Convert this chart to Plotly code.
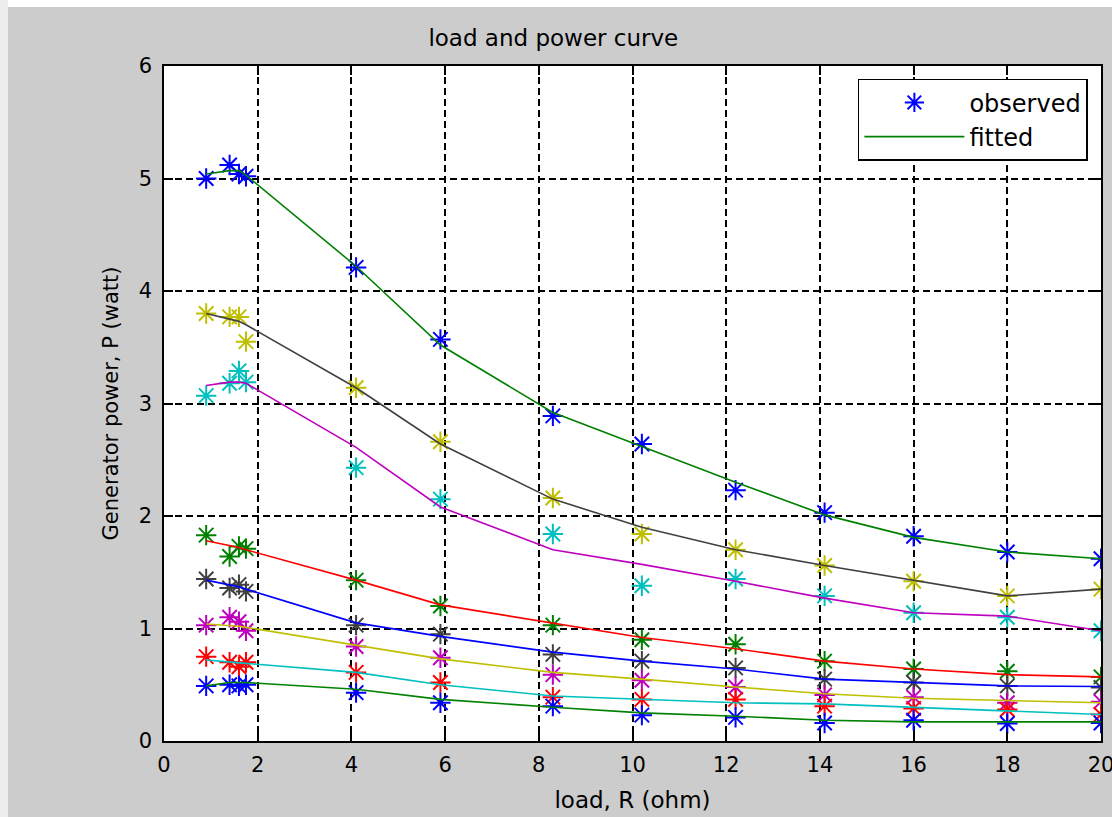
import plotly.graph_objects as go

# Load resistance values (ohm) shared by every measurement set
load_r = [0.9, 1.4, 1.6, 1.75, 4.1, 5.9, 8.3, 10.2, 12.2, 14.1, 16.0, 18.0, 20.0]

# Observed generator power (watt), one list per run
obs_1 = [5.00, 5.12, 5.04, 5.02, 4.21, 3.57, 2.89, 2.64, 2.23, 2.03, 1.82, 1.68, 1.62]
obs_2 = [3.80, 3.77, 3.77, 3.55, 3.14, 2.66, 2.16, 1.84, 1.70, 1.56, 1.42, 1.29, 1.35]
obs_3 = [3.07, 3.18, 3.29, 3.19, 2.43, 2.15, 1.84, 1.38, 1.44, 1.29, 1.14, 1.10, 0.98]
obs_4 = [1.83, 1.64, 1.73, 1.71, 1.43, 1.20, 1.03, 0.90, 0.86, 0.71, 0.64, 0.62, 0.57]
obs_5 = [1.44, 1.36, 1.39, 1.33, 1.03, 0.95, 0.77, 0.71, 0.65, 0.55, 0.52, 0.49, 0.475]
obs_6 = [1.03, 1.10, 1.06, 0.98, 0.84, 0.74, 0.59, 0.54, 0.48, 0.41, 0.39, 0.34, 0.35]
obs_7 = [0.75, 0.70, 0.66, 0.70, 0.61, 0.52, 0.39, 0.37, 0.37, 0.31, 0.29, 0.28, 0.235]
obs_8 = [0.49, 0.50, 0.49, 0.50, 0.43, 0.34, 0.31, 0.23, 0.21, 0.16, 0.185, 0.155, 0.16]

# Fitted generator power (watt), one list per run
fit_1 = [5.04, 5.07, 5.07, 5.03, 4.22, 3.52, 2.92, 2.62, 2.30, 2.01, 1.81, 1.68, 1.62]
fit_2 = [3.80, 3.75, 3.73, 3.70, 3.14, 2.64, 2.15, 1.90, 1.70, 1.56, 1.43, 1.29, 1.35]
fit_3 = [3.16, 3.19, 3.19, 3.18, 2.61, 2.08, 1.70, 1.57, 1.42, 1.27, 1.14, 1.11, 0.98]
fit_4 = [1.78, 1.74, 1.72, 1.70, 1.43, 1.21, 1.05, 0.92, 0.82, 0.71, 0.64, 0.59, 0.57]
fit_5 = [1.43, 1.39, 1.37, 1.35, 1.05, 0.93, 0.79, 0.71, 0.64, 0.55, 0.52, 0.49, 0.485]
fit_6 = [1.04, 1.03, 1.02, 1.01, 0.85, 0.73, 0.61, 0.55, 0.48, 0.42, 0.38, 0.36, 0.34]
fit_7 = [0.72, 0.70, 0.69, 0.69, 0.61, 0.50, 0.40, 0.37, 0.34, 0.33, 0.30, 0.265, 0.235]
fit_8 = [0.49, 0.52, 0.52, 0.52, 0.46, 0.37, 0.30, 0.25, 0.22, 0.185, 0.17, 0.17, 0.17]

x_ticks = [0, 2, 4, 6, 8, 10, 12, 14, 16, 18, 20]
y_ticks = [0, 1, 2, 3, 4, 5, 6]

BLUE, GREEN, RED = "#0000ff", "#008000", "#ff0000"
CYAN, MAGENTA, YELLOW, DARK = "#00bfbf", "#bf00bf", "#bfbf00", "#404040"

observed = [obs_1, obs_2, obs_3, obs_4, obs_5, obs_6, obs_7, obs_8]
observed_colors = [BLUE, YELLOW, CYAN, GREEN, DARK, MAGENTA, RED, BLUE]
fitted = [fit_1, fit_2, fit_3, fit_4, fit_5, fit_6, fit_7, fit_8]
fitted_colors = [GREEN, DARK, MAGENTA, RED, BLUE, YELLOW, CYAN, GREEN]

FONT = "DejaVu Sans"

fig = go.Figure()

for i, (vals, col) in enumerate(zip(observed, observed_colors)):
    fig.add_trace(go.Scatter(
        x=load_r, y=vals, mode="markers", name="observed",
        showlegend=(i == 0),
        marker=dict(symbol="asterisk-open", size=17, color=col,
                    line=dict(color=col, width=2)),
    ))

for i, (vals, col) in enumerate(zip(fitted, fitted_colors)):
    fig.add_trace(go.Scatter(
        x=load_r, y=vals, mode="lines", name="fitted",
        showlegend=(i == 0),
        line=dict(color=col, width=1.6),
    ))

axis_common = dict(
    showline=True, linecolor="black", linewidth=1.5, mirror="ticks",
    ticks="inside", ticklen=9, tickcolor="black", tickwidth=1.5,
    showgrid=True, gridcolor="black", gridwidth=2, griddash="7px,4px",
    zeroline=False, tickfont=dict(family=FONT, size=21, color="black"),
    ticklabeloverflow="allow", automargin=False,
)

fig.update_xaxes(range=[0, 20], tickvals=x_ticks, ticklabelstandoff=4,
                 title=dict(text="load, R (ohm)", font=dict(family=FONT, size=23, color="black"),
                            standoff=16),
                 **axis_common)
fig.update_yaxes(range=[0, 6], tickvals=y_ticks, ticklabelstandoff=6,
                 title=dict(text="Generator power, P (watt)",
                            font=dict(family=FONT, size=21, color="black"), standoff=14),
                 **axis_common)

# white window strip along the top and textured strip at the left edge
fig.add_shape(type="rect", xref="paper", yref="paper",
              x0=-0.2, x1=1.02, y0=1.0873, y1=1.1, fillcolor="white",
              line=dict(width=0), layer="below")
fig.add_shape(type="rect", xref="paper", yref="paper",
              x0=-0.2, x1=-0.1665, y0=-0.12, y1=1.1, fillcolor="#ededed",
              line=dict(width=0), layer="below")

fig.update_layout(
    width=1112, height=817,
    margin=dict(l=164, r=11, t=66, b=76, autoexpand=False),
    paper_bgcolor="#cccccc", plot_bgcolor="white",
    title=dict(text="load and power curve", x=0.4976, xanchor="center",
               y=0.953, yanchor="middle",
               font=dict(family=FONT, size=23, color="black")),
    legend=dict(x=0.986, xanchor="right", y=0.981, yanchor="top",
                bgcolor="white", bordercolor="black", borderwidth=1.5,
                font=dict(family=FONT, size=24, color="black"),
                itemwidth=100),
    showlegend=True,
)

fig.write_html("out.html")
